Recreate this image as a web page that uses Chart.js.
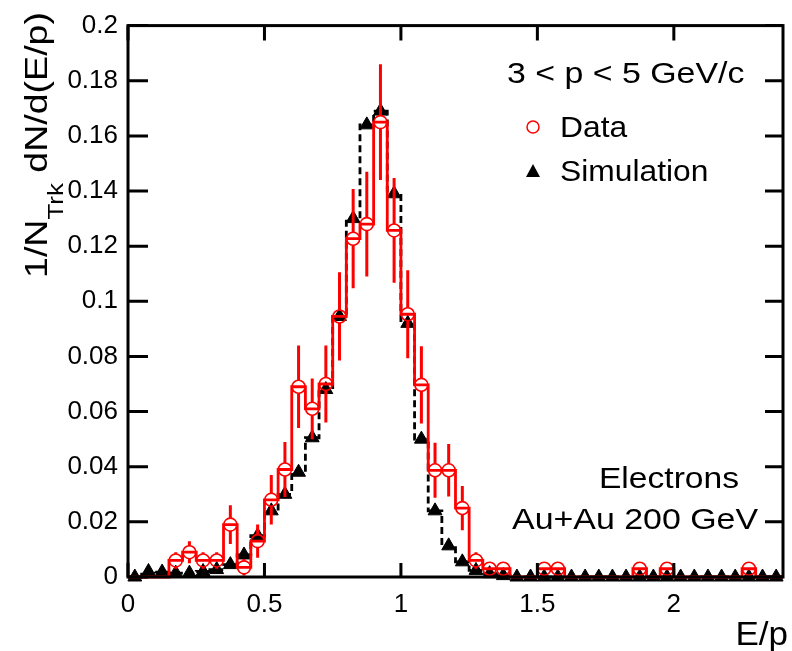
<!DOCTYPE html>
<html>
<head>
<meta charset="utf-8">
<script src="https://cdn.jsdelivr.net/npm/chart.js@4.4.1/dist/chart.umd.min.js"></script>
<style>
  html, body { margin: 0; padding: 0; background: #fff; }
  #wrap { width: 792px; height: 651px; position: relative; }
</style>
</head>
<body>
<div id="wrap"><canvas id="c"></canvas></div>
<script>
// E/p distribution, electrons 3 < p < 5 GeV/c, bins of 0.05
const binCenters = [
  0.025, 0.075, 0.125, 0.175, 0.225, 0.275, 0.325, 0.375, 0.425, 0.475,
  0.525, 0.575, 0.625, 0.675, 0.725, 0.775, 0.825, 0.875, 0.925, 0.975,
  1.025, 1.075, 1.125, 1.175, 1.225, 1.275, 1.325, 1.375, 1.425, 1.475,
  1.525, 1.575, 1.625, 1.675, 1.725, 1.775, 1.825, 1.875, 1.925, 1.975,
  2.025, 2.075, 2.125, 2.175, 2.225, 2.275, 2.325, 2.375
];
const binWidth = 0.05;

// measured data (null = empty bin)
const dataValues = [
  null, null, null, 0.006, 0.009, 0.006, 0.006, 0.019, 0.0035, 0.013,
  0.028, 0.039, 0.069, 0.061, 0.070, 0.0945, 0.1227, 0.128, 0.165, 0.1257,
  0.0953, 0.0697, 0.0387, 0.0387, 0.025, 0.006, 0.003, 0.003, null, null,
  0.003, 0.003, null, null, null, null, null, 0.003, null, 0.003,
  null, null, null, null, null, 0.003, null, null
];
const dataErrors = [
  null, null, null, 0.003, 0.004, 0.003, 0.003, 0.007, 0.003, 0.006,
  0.009, 0.010, 0.015, 0.011, 0.014, 0.016, 0.018, 0.019, 0.021, 0.019,
  0.016, 0.014, 0.010, 0.0095, 0.008, 0.003, 0.002, 0.002, null, null,
  0.002, 0.002, null, null, null, null, null, 0.002, null, 0.002,
  null, null, null, null, null, 0.002, null, null
];

// simulation
const simValues = [
  0.0, 0.002, 0.0018, 0.0014, 0.0014, 0.002, 0.0027, 0.0045, 0.008, 0.015,
  0.024, 0.030, 0.038, 0.0505, 0.068, 0.0945, 0.130, 0.164, 0.169, 0.139,
  0.092, 0.050, 0.024, 0.0113, 0.0055, 0.0024, 0.0012, 0.0005, 0, 0,
  0, 0, 0, 0, 0, 0, 0, 0, 0, 0,
  0, 0, 0, 0, 0, 0, 0, 0
];

const xTicks = [0, 0.5, 1, 1.5, 2];
const yTicks = [0, 0.02, 0.04, 0.06, 0.08, 0.1, 0.12, 0.14, 0.16, 0.18, 0.2];

const FONT = "'Liberation Sans', Arial, sans-serif";
const RED = '#ff0000';
const CIRCLE_R = 6.5;

// step outline of a histogram: left & right edge of every bin
function histPoints(vals) {
  const pts = [];
  vals.forEach((v, i) => {
    const y = v == null ? 0 : v;
    pts.push({ x: binCenters[i] - binWidth / 2, y });
    pts.push({ x: binCenters[i] + binWidth / 2, y });
  });
  return pts;
}

function txt(ctx, s, x, y, size, align, sx) {
  ctx.save();
  ctx.font = size + 'px ' + FONT;
  ctx.textAlign = align;
  ctx.textBaseline = 'alphabetic';
  ctx.fillStyle = '#000';
  ctx.translate(x, y);
  ctx.scale(sx || 1, 1);
  ctx.fillText(s, 0, 0);
  ctx.restore();
}

const rootStyle = {
  id: 'rootStyle',
  afterDatasetsDraw(chart) {
    const { ctx, scales: { x, y } } = chart;
    ctx.save();
    ctx.strokeStyle = RED;
    ctx.lineWidth = 3;
    dataValues.forEach((v, i) => {
      const e = dataErrors[i];
      if (v == null || e == null) return;
      const px = x.getPixelForValue(binCenters[i]);
      const py = y.getPixelForValue(v);
      const top = y.getPixelForValue(v + e);
      const bot = y.getPixelForValue(Math.max(0, v - e));
      ctx.beginPath();
      if (py - top > CIRCLE_R) { ctx.moveTo(px, py - CIRCLE_R); ctx.lineTo(px, top); }
      if (bot - py > CIRCLE_R) { ctx.moveTo(px, py + CIRCLE_R); ctx.lineTo(px, bot); }
      ctx.stroke();
    });
    ctx.restore();
  },
  afterDraw(chart) {
    const { ctx, chartArea: a, scales: { x, y } } = chart;
    ctx.save();
    // frame
    ctx.strokeStyle = '#000';
    ctx.lineWidth = 3;
    ctx.strokeRect(a.left, a.top, a.right - a.left, a.bottom - a.top);
    // ticks (inward, ROOT style)
    ctx.beginPath();
    yTicks.forEach(v => {
      const py = y.getPixelForValue(v);
      ctx.moveTo(a.left, py); ctx.lineTo(a.left + 20, py);
      ctx.moveTo(a.right, py); ctx.lineTo(a.right - 18, py);
    });
    xTicks.forEach(v => {
      const px = x.getPixelForValue(v);
      ctx.moveTo(px, a.bottom); ctx.lineTo(px, a.bottom - 14);
      ctx.moveTo(px, a.top); ctx.lineTo(px, a.top + 15);
    });
    ctx.stroke();

    // axis titles
    txt(ctx, 'E/p', 788, 645, 34, 'right', 1.03);

    ctx.save();
    ctx.translate(47, 278);
    ctx.rotate(-Math.PI / 2);
    const main = '32px ' + FONT, sub = '22px ' + FONT;
    ctx.font = main; const w1 = ctx.measureText('1/N').width;
    ctx.font = sub;  const w2 = ctx.measureText('Trk').width;
    ctx.font = main; const w3 = ctx.measureText(' dN/d(E/p)').width;
    ctx.scale(266 / (w1 + w2 + w3), 1);
    ctx.fillStyle = '#000';
    ctx.textAlign = 'left';
    ctx.textBaseline = 'alphabetic';
    ctx.font = main; ctx.fillText('1/N', 0, 0);
    ctx.font = sub;  ctx.fillText('Trk', w1, 16);
    ctx.font = main; ctx.fillText(' dN/d(E/p)', w1 + w2, 0);
    ctx.restore();

    // annotations + legend
    txt(ctx, '3 < p < 5 GeV/c', 507, 83, 30, 'left', 1.13);
    txt(ctx, 'Data', 560, 137, 30, 'left', 1.06);
    txt(ctx, 'Simulation', 560, 181, 30, 'left', 1.06);
    txt(ctx, 'Electrons', 739, 488, 30, 'right', 1.12);
    txt(ctx, 'Au+Au 200 GeV', 758, 529, 30, 'right', 1.13);

    ctx.strokeStyle = RED;
    ctx.lineWidth = 1.5;
    ctx.beginPath();
    ctx.arc(533, 127, 6, 0, Math.PI * 2);
    ctx.stroke();
    ctx.fillStyle = '#000';
    ctx.beginPath();
    ctx.moveTo(533, 164); ctx.lineTo(540, 177); ctx.lineTo(526, 177);
    ctx.closePath();
    ctx.fill();
    ctx.restore();
  }
};

new Chart(document.getElementById('c'), {
  type: 'line',
  data: {
    datasets: [
      {
        label: 'Data',
        data: binCenters.map((c, i) => ({ x: c, y: dataValues[i] })),
        showLine: false,
        pointStyle: 'circle',
        pointRadius: CIRCLE_R,
        pointBorderWidth: 1.6,
        pointBorderColor: RED,
        pointBackgroundColor: 'rgba(0,0,0,0)',
        clip: false,
        order: 1,
      },
      {
        label: 'Data hist',
        data: histPoints(dataValues),
        borderColor: RED,
        borderWidth: 2.8,
        pointRadius: 0,
        tension: 0,
        clip: false,
        order: 0,
      },
      {
        label: 'Simulation',
        data: binCenters.map((c, i) => ({ x: c, y: simValues[i] })),
        showLine: false,
        pointStyle: 'triangle',
        pointRadius: 8,
        pointBorderWidth: 1,
        pointBorderColor: '#000',
        pointBackgroundColor: '#000',
        clip: false,
        order: 2,
      },
      {
        label: 'Simulation hist',
        data: histPoints(simValues),
        borderColor: '#000',
        borderWidth: 2.8,
        borderDash: [7, 4],
        pointRadius: 0,
        tension: 0,
        clip: false,
        order: 3,
      },
    ],
  },
  options: {
    responsive: true,
    maintainAspectRatio: false,
    animation: false,
    layout: { padding: { top: 17, right: 9, left: 0, bottom: 0 } },
    plugins: { legend: { display: false }, tooltip: { enabled: false } },
    scales: {
      x: {
        type: 'linear',
        min: 0,
        max: 2.4,
        grid: { display: false, drawTicks: false },
        border: { display: false },
        afterBuildTicks: s => { s.ticks = xTicks.map(v => ({ value: v })); },
        afterFit: s => { s.height = 74; },
        ticks: {
          color: '#000',
          padding: 12,
          maxRotation: 0,
          font: { family: FONT, size: 26 },
          callback: v => String(v),
        },
      },
      y: {
        type: 'linear',
        min: 0,
        max: 0.2,
        grid: { display: false, drawTicks: false },
        border: { display: false },
        afterBuildTicks: s => { s.ticks = yTicks.map(v => ({ value: v })); },
        afterFit: s => { s.width = 128; },
        ticks: {
          color: '#000',
          padding: 10,
          font: { family: FONT, size: 26 },
          callback: v => (v === 0 ? '0' : String(+v.toFixed(2))),
        },
      },
    },
  },
  plugins: [rootStyle],
});
</script>
</body>
</html>
